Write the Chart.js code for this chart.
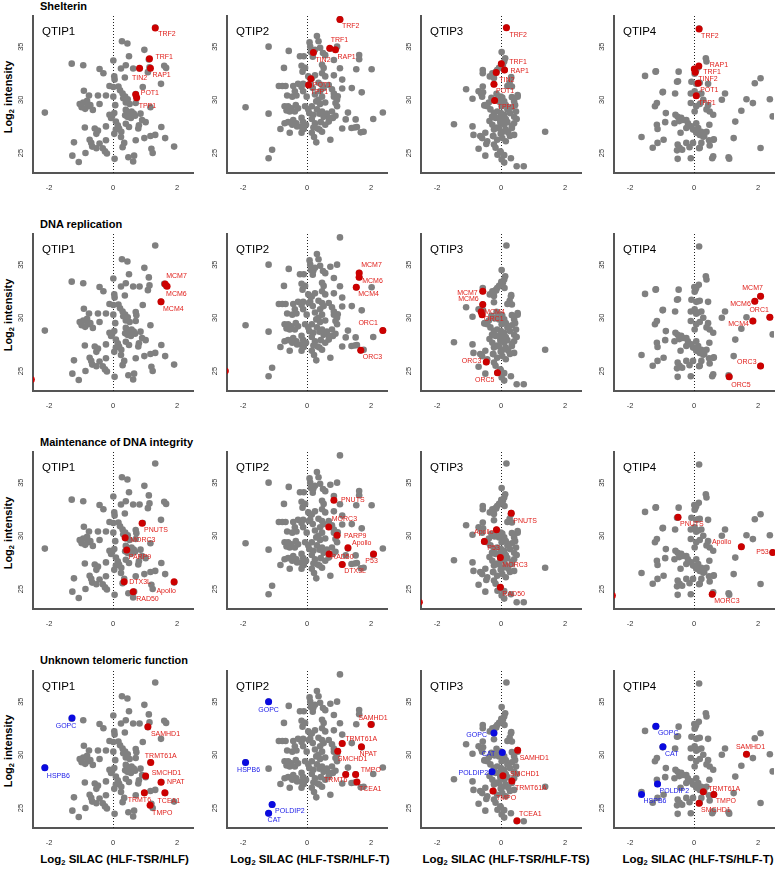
<!DOCTYPE html>
<html>
<head>
<meta charset="utf-8">
<script src="https://cdn.jsdelivr.net/npm/chart.js@4.4.0/dist/chart.umd.min.js"></script>
<style>
  body { margin: 0; width: 775px; height: 869px; position: relative; overflow: hidden; background: #fff;
         font-family: "Liberation Sans", Arial, sans-serif; color: #000; }
  canvas { position: absolute; }
  .rowt { position: absolute; left: 40px; font-weight: bold; font-size: 11px; line-height: 11px; white-space: nowrap; }
  .xt { position: absolute; top: 853px; font-weight: bold; font-size: 11.5px; line-height: 13px;
        transform: translateX(-50%); white-space: nowrap; }
  .yt { position: absolute; font-weight: bold; font-size: 11px; line-height: 13px; white-space: nowrap;
        transform: translate(-50%, -50%) rotate(-90deg); }
  sub { font-size: 7.5px; vertical-align: -2px; line-height: 0; }
</style>
</head>
<body>
<script>
const panels = ['QTIP1', 'QTIP2', 'QTIP3', 'QTIP4'];
const rowTitles = ['Shelterin', 'DNA replication', 'Maintenance of DNA integrity', 'Unknown telomeric function'];
const xTitles = ['HLF-TSR/HLF', 'HLF-TSR/HLF-T', 'HLF-TSR/HLF-TS', 'HLF-TS/HLF-T'];
const xTicks = [-2, 0, 2];
const yTicks = [25, 30, 35];

// all quantified proteins, per comparison: [log2 SILAC ratio, log2 intensity]
const grayQTIP1 = [[1.32,36.8],[0.28,35.5],[0.45,35.3],[0.98,34.7],[0.5,34.1],[1.12,33.8],[0.01,33.7],[-1.29,33.4],[-0.93,33.25],
  [1.14,33.05],[0.4,33.25],[0.25,32.95],[0.63,32.95],[0.83,32.95],[-0.42,32.9],[-0.3,32.5],[0.04,32.2],[0.05,31.9],[0.37,32.1],
  [0.93,31.2],[-0.91,30.85],[-0.11,31.3],[0.01,31.2],[0.17,31.25],[0.22,30.9],[0.3,30.6],[0.38,30.3],[0.32,30.15],[0.46,30.05],
  [0.4,29.75],[0.52,29.6],[0.71,30.55],[0.73,30.25],[-0.75,30.4],[-0.47,30.4],[-0.22,30.4],[-1.04,29.6],[-0.93,29.75],[-0.83,29.7],
  [-0.78,29.4],[-0.71,29.5],[-0.81,29.9],[-0.98,29.3],[-0.87,29.15],[-0.42,29.6],[0.01,30.3],[0.07,29.5],[1.17,29.3],[0.71,29.7],
  [-0.63,29.05],[-0.11,28.6],[-0.03,28.45],[0.04,28.75],[-0.06,28.3],[0.4,29.05],[0.46,28.85],[0.52,28.7],[0.58,28.9],[0.65,28.7],
  [0.69,28.5],[0.56,28.3],[0.45,28.4],[0.38,28.55],[0.91,28.1],[1.02,27.9],[0.86,28.7],[-0.88,27.4],[-0.57,27.3],[-0.47,27.1],
  [-0.52,26.8],[-0.22,27.5],[0.09,27.95],[0.15,27.6],[0.19,27.3],[0.09,27.2],[0.26,27.0],[0.04,26.8],[0.4,27.75],[0.5,27.45],
  [0.81,27.6],[0.79,27.3],[1.51,27.45],[1.17,26.6],[1.32,26.7],[0.98,26.4],[1.63,26.4],[-1.22,26.0],[-0.73,26.25],[-0.68,25.95],
  [-0.65,25.6],[-0.52,25.45],[-0.42,25.9],[-0.22,26.2],[-0.32,25.45],[-0.25,25.15],[-0.19,24.95],[0.25,26.5],[0.35,25.95],
  [0.3,25.55],[0.71,26.2],[1.91,25.6],[1.2,25.4],[1.24,25.0],[-1.27,24.75],[-0.86,25.0],[-1.07,24.15],[0.05,24.45],[0.48,24.6],
  [0.66,24.75],[0.63,24.2],[-2.13,28.8],[1.6,33.2],[1.66,33.0],[1.5,31.5],[1.09,32.6]];

const grayQTIP2 = [[1.03,37.56],[0.31,36.0],[-1.2,35.0],[0.08,35.4],[0.1,35.0],[0.12,34.5],[0.36,35.5],[0.41,34.9],[0.73,34.8],
  [0.94,35.0],[0.5,34.4],[0.25,34.7],[-0.57,34.6],[-0.22,34.1],[-0.1,34.1],[0.18,34.06],[0.57,34.2],[0.84,33.75],[1.63,34.22],
  [1.63,33.81],[2.02,32.87],[1.54,32.88],[1.03,32.97],[0.47,33.3],[0.52,33.0],[-0.72,33.0],[-0.17,33.2],[-0.06,33.0],[-0.14,32.65],
  [0.04,32.2],[0.15,32.0],[0.25,32.3],[0.47,32.5],[0.57,32.2],[1.1,31.9],[0.84,32.3],[-0.43,31.3],[-0.28,31.5],[-0.12,31.5],
  [-0.17,31.2],[0.1,31.5],[0.18,31.1],[0.36,31.6],[0.47,31.4],[0.52,31.1],[0.41,30.8],[0.68,31.4],[0.78,31.0],[0.84,30.6],
  [1.4,31.1],[-0.88,31.3],[-0.77,31.3],[-0.67,31.3],[-0.62,30.4],[-0.38,30.8],[-0.46,30.3],[-0.33,30.4],[-0.12,30.8],[-0.01,30.3],
  [0.25,30.5],[0.36,30.0],[0.29,29.85],[0.47,30.3],[0.57,29.75],[0.41,29.6],[0.84,30.3],[0.94,30.0],[0.89,29.7],[1.71,30.7],
  [-1.92,29.3],[-1.2,28.7],[-0.7,29.4],[-0.59,29.4],[-0.64,29.0],[-0.54,28.9],[-0.49,29.2],[-0.35,29.5],[-0.28,29.2],[-0.38,28.9],
  [-0.06,29.4],[0.04,29.1],[0.15,29.4],[0.07,28.75],[0.2,28.6],[0.31,29.1],[0.39,28.7],[0.47,28.9],[0.52,28.4],[0.62,28.7],
  [0.78,28.9],[0.89,28.5],[0.94,29.4],[1.28,28.8],[1.49,27.4],[2.07,28.2],[-0.83,27.25],[-0.7,27.8],[-0.59,27.9],[-0.43,28.1],
  [-0.33,27.8],[-0.46,27.65],[-0.31,27.5],[-0.17,28.3],[-0.12,27.9],[-0.17,27.45],[-0.03,27.65],[-0.1,27.25],[0.15,28.2],
  [0.25,27.8],[0.2,27.4],[0.33,27.3],[0.43,27.9],[0.39,27.2],[0.57,27.65],[0.68,27.95],[-0.54,26.9],[-0.17,26.9],[0.15,26.9],
  [0.22,26.5],[0.29,26.0],[0.47,27.0],[0.73,26.25],[1.39,27.35],[1.77,27.0],[-1.09,25.3],[-1.2,24.5],[0.81,28.3],[1.1,31.06],
  [0.96,30.34],[1.21,28.16],[1.52,28.16],[1.56,27.44],[0.69,28.28],[1.1,27.31],[2.37,28.81],[1.68,26.94],[0.2,34.44],
  [0.12,31.97],[0.05,31.4]];

const grayQTIP3 = [[0.17,36.8],[0.02,34.5],[0.13,33.9],[0.1,33.6],[0.06,33.3],[-0.01,33.1],[-0.06,33.0],[0.01,33.38],[0.11,32.8],
  [-0.17,32.6],[-0.27,32.5],[-0.12,32.8],[-0.57,32.8],[-0.57,32.5],[-0.35,32.2],[0.31,32.0],[0.27,31.6],[0.2,31.3],[0.34,31.25],
  [-1.09,31.0],[-0.7,30.8],[-0.56,30.7],[-0.57,31.25],[-0.62,30.56],[-0.22,31.47],[-0.89,30.1],[-0.51,29.5],[-0.38,29.75],
  [-0.43,29.4],[-0.3,30.2],[-0.17,30.0],[-0.01,30.3],[-0.06,29.85],[0.1,29.85],[0.15,29.5],[0.02,29.4],[0.2,29.1],[0.34,30.25],
  [0.41,29.85],[0.52,30.3],[0.44,29.5],[0.34,29.3],[-0.33,29.1],[-0.22,28.75],[-0.12,28.9],[-0.27,28.4],[-0.17,28.3],[0.0,28.75],
  [0.1,28.6],[-0.04,28.3],[0.04,28.1],[0.15,28.2],[-0.01,27.8],[0.1,27.65],[0.2,27.9],[0.28,28.75],[0.41,28.4],[0.47,28.9],
  [0.49,28.2],[0.41,27.8],[0.34,27.35],[-1.47,27.7],[-0.89,27.5],[-0.36,28.0],[-0.27,27.65],[-0.12,27.4],[-0.22,27.2],
  [-0.06,27.3],[0.06,27.0],[-0.01,26.8],[0.15,27.2],[0.23,26.9],[1.38,27.0],[-0.86,26.7],[-0.65,26.6],[-0.49,26.9],[-0.59,26.4],
  [-0.24,26.6],[-0.12,26.25],[0.04,26.4],[0.15,26.1],[0.28,26.6],[0.41,26.7],[-0.7,25.4],[-0.43,26.1],[-0.22,25.8],[-0.17,25.5],
  [-0.49,24.75],[-0.01,25.06],[0.1,24.8],[0.02,24.4],[0.31,24.5],[0.1,24.1],[0.49,23.75],[0.71,23.75],[-0.46,25.84],
  [-0.11,24.84],[0.32,32.13],[-0.14,30.56],[-0.52,29.47],[-0.02,27.97],[-0.02,25.16],[-0.22,32.06],[0.04,30.22],[-0.28,28.41],
  [0.52,30.44],[0.06,28.03],[0.34,27.53],[-0.25,26.59],[-0.2,29.94],[-0.15,32.56],[-0.59,30.3]];

const grayQTIP4 = [[0.16,36.7],[0.37,33.9],[0.39,33.6],[0.15,33.1],[0.07,32.8],[0.02,32.45],[-1.53,32.25],[-1.2,32.65],[-0.48,32.65],
  [-0.53,31.7],[-0.08,31.7],[0.07,31.5],[0.18,31.6],[0.44,31.5],[-0.1,30.6],[0.02,30.8],[0.13,30.5],[0.23,30.6],[-0.98,30.7],
  [-0.59,30.6],[0.97,30.6],[0.87,30.0],[-1.16,29.7],[-1.22,29.4],[-0.1,29.7],[0.07,29.4],[0.18,29.6],[0.29,30.0],[0.02,28.9],
  [0.39,29.1],[0.49,28.9],[0.6,28.6],[0.44,29.5],[-0.88,28.75],[-0.58,28.6],[-0.51,28.4],[-0.4,28.3],[-0.35,28.1],[-0.24,28.1],
  [-0.46,28.0],[-0.61,27.8],[-0.19,27.8],[-0.08,27.5],[-0.24,27.35],[-0.03,27.2],[0.07,27.8],[0.13,27.35],[0.23,27.0],[0.18,26.7],
  [0.07,26.9],[0.32,26.6],[0.39,27.0],[-0.9,27.9],[-1.16,27.65],[0.48,27.65],[1.29,27.95],[-1.64,26.5],[-1.14,25.95],[-1.29,25.5],
  [-0.95,26.25],[-0.42,26.9],[-0.51,25.8],[-0.45,25.5],[-0.53,25.25],[-0.37,25.3],[-0.24,25.95],[-0.14,25.55],[-0.03,25.95],
  [0.23,25.95],[0.18,25.5],[0.47,26.2],[0.49,25.7],[-0.51,24.45],[-0.1,24.5],[0.6,26.25],[1.24,26.4],[0.6,24.7],[1.08,24.6],
  [2.08,25.47],[2.37,30.06],[2.08,32.03],[1.9,31.56],[1.84,29.69],[1.1,24.47],[0.01,32.9],[0.04,32.6],[0.13,31.56],[0.07,30.38],
  [-0.5,31.75],[1.48,28.97],[2.46,28.44],[0.57,24.5],[-1.19,32.69],[-0.97,30.75],[-1.14,27.25],[1.64,30.06],[0.29,26.53],
  [0.62,26.28],[0.16,25.44]];

// highlighted proteins per row, one list per comparison: [name, ratio, intensity]
const shelterinRed = [
  [['TRF2',1.32,36.75],['TRF1',1.14,33.85],['TIN2',0.83,32.97],['RAP1',1.17,32.97],['POT1',0.71,30.5],['TPP1',0.74,30.2]],
  [['TRF2',1.03,37.56],['TRF1',0.71,34.84],['RAP1',0.89,34.7],['TIN2',0.2,34.44],['POT1',0.12,31.97],['TPP1',0.05,31.4]],
  [['TRF2',0.17,36.78],['TRF1',0.01,33.38],['RAP1',0.11,32.8],['TIN2',-0.15,32.56],['POT1',-0.22,31.47],['TPP1',-0.2,29.94]],
  [['TRF2',0.16,36.66],['RAP1',0.15,33.19],['TRF1',0.01,32.9],['TINF2',0.04,32.6],['POT1',0.13,31.56],['TPP1',0.07,30.38]]
];
const replicationRed = [
  [['MCM7',1.63,33.19],['MCM6',1.69,32.97],['MCM4',1.5,31.5],['',-2.55,24.2]],
  [['MCM7',1.63,34.22],['MCM6',1.63,33.81],['MCM4',1.54,32.88],['ORC1',2.37,28.81],['ORC3',1.68,26.94],['',-2.55,25.0]],
  [['MCM7',-0.57,32.5],['MCM6',-0.57,31.25],['MCM4',-0.62,30.56],['ORC1',-0.59,30.3],['ORC3',-0.46,25.84],['ORC5',-0.11,24.84]],
  [['MCM7',2.08,32.03],['MCM6',1.9,31.56],['ORC1',2.37,30.06],['MCM4',1.84,29.69],['ORC3',2.08,25.47],['ORC5',1.1,24.47]]
];
const integrityRed = [
  [['PNUTS',0.91,31.19],['MORC3',0.38,29.81],['PARP9',0.43,28.66],['DTX3L',0.35,25.69],['Apollo',1.91,25.69],['RAD50',0.63,24.75]],
  [['PNUTS',0.84,33.34],['MORC3',0.68,30.84],['PARP9',0.94,30.06],['Apollo',1.28,28.88],['RAD50',0.69,28.28],['P53',2.08,28.28],['DTX3L',1.1,27.31]],
  [['PNUTS',0.32,32.13],['Apollo',-0.14,30.56],['P53',-0.52,29.47],['MORC3',-0.02,27.97],['RAD50',-0.02,25.16],['',-2.55,23.75]],
  [['PNUTS',-0.5,31.75],['Apollo',1.48,28.97],['P53',2.46,28.44],['MORC3',0.57,24.5],['',-2.55,24.4]]
];
const unknownRed = [
  [['SAMHD1',1.09,32.63],['TRMT61A',1.18,29.28],['SMCHD1',1.02,28.0],['NPAT',1.5,27.41],['TRMT6',0.98,26.44],['TCEA1',1.62,26.44],['TMPO',1.16,25.25]],
  [['SAMHD1',2.0,32.84],['TRMT61A',1.1,31.06],['NPAT',1.7,30.75],['SMCHD1',0.96,30.34],['TRMT6',1.21,28.16],['TMPO',1.52,28.16],['TCEA1',1.56,27.44]],
  [['SAMHD1',0.52,30.44],['SMCHD1',0.06,28.03],['TRMT61A',0.34,27.53],['TMPO',-0.25,26.59],['TCEA1',0.5,23.81]],
  [['SAMHD1',1.64,30.06],['TRMT61A',0.29,26.53],['TMPO',0.62,26.28],['SMCHD1',0.16,25.44]]
];
const unknownBlue = [
  [['GOPC',-1.28,33.47],['HSPB6',-2.13,28.78]],
  [['GOPC',-1.2,35.0],['HSPB6',-1.92,29.28],['POLDIP2',-1.09,25.34],['CAT',-1.2,24.5]],
  [['GOPC',-0.22,32.06],['CAT',0.04,30.22],['POLDIP2',-0.28,28.41]],
  [['GOPC',-1.19,32.69],['CAT',-0.97,30.75],['POLDIP2',-1.14,27.25],['HSPB6',-1.64,26.28]]
];

// label placement in px relative to the dot: [dx, dy, align]  (align: l = left edge, c = centred, r = right edge)
const labelPlace = {
  '0-0-TRF2':[3,6],'0-0-TRF1':[6,-2],'0-0-RAP1':[2,7],'0-0-TIN2':[0,10,'c'],'0-0-POT1':[5,-1],'0-0-TPP1':[2,8],
  '0-1-TRF2':[2,7],'0-1-TRF1':[1,-8],'0-1-RAP1':[2,7],'0-1-TIN2':[2,7],'0-1-POT1':[2,6],'0-1-TPP1':[2,7],
  '0-2-TRF2':[3,7],'0-2-TRF1':[8,-2],'0-2-RAP1':[6,1],'0-2-TIN2':[3,7],'0-2-POT1':[2,7],'0-2-TPP1':[3,7],
  '0-3-TRF2':[2,7],'0-3-RAP1':[11,-1],'0-3-TRF1':[9,3],'0-3-TINF2':[3,7],'0-3-POT1':[2,7],'0-3-TPP1':[2,7],
  '1-0-MCM7':[1,-8],'1-0-MCM6':[-1,8],'1-0-MCM4':[2,7],
  '1-1-MCM7':[2,-8],'1-1-MCM6':[3,4],'1-1-MCM4':[2,7],'1-1-ORC1':[-5,-7,'r'],'1-1-ORC3':[2,7],
  '1-2-MCM7':[-5,2,'r'],'1-2-MCM6':[-4,-5,'r'],'1-2-MCM4':[3,0],'1-2-ORC1':[2,4],'1-2-ORC3':[-5,-1,'r'],'1-2-ORC5':[-3,7,'r'],
  '1-3-MCM7':[-8,-8,'c'],'1-3-MCM6':[-4,3,'r'],'1-3-ORC1':[-1,-7,'r'],'1-3-MCM4':[-4,3,'r'],'1-3-ORC3':[-4,-4,'r'],'1-3-ORC5':[2,8],
  '2-0-PNUTS':[2,7],'2-0-MORC3':[5,2],'2-0-PARP9':[2,7],'2-0-DTX3L':[5,0],'2-0-Apollo':[-8,9,'c'],'2-0-RAD50':[3,7],
  '2-1-PNUTS':[7,0],'2-1-MORC3':[3,-8],'2-1-PARP9':[7,1],'2-1-Apollo':[4,-5],'2-1-RAD50':[2,3],'2-1-P53':[-2,7,'c'],'2-1-DTX3L':[2,7],
  '2-2-PNUTS':[2,8],'2-2-Apollo':[-3,2,'r'],'2-2-P53':[3,7],'2-2-MORC3':[2,8],'2-2-RAD50':[2,7],
  '2-3-PNUTS':[2,7],'2-3-Apollo':[-10,-5,'r'],'2-3-P53':[-4,0,'r'],'2-3-MORC3':[2,7],
  '3-0-GOPC':[-6,8,'c'],'3-0-HSPB6':[2,8],'3-0-SAMHD1':[3,7],'3-0-TRMT61A':[10,-6,'c'],'3-0-SMCHD1':[6,-3],'3-0-NPAT':[6,0],
  '3-0-TRMT6':[-5,7,'c'],'3-0-TCEA1':[4,8,'c'],'3-0-TMPO':[2,8],
  '3-1-GOPC':[0,8,'c'],'3-1-HSPB6':[3,8,'c'],'3-1-POLDIP2':[3,7],'3-1-CAT':[-1,7],'3-1-SAMHD1':[2,-7,'c'],'3-1-TRMT61A':[3,-4],
  '3-1-NPAT':[-2,7],'3-1-SMCHD1':[0,8],'3-1-TRMT6':[-10,6,'c'],'3-1-TMPO':[5,-4],'3-1-TCEA1':[2,7],
  '3-2-GOPC':[-7,2,'r'],'3-2-CAT':[-7,2,'r'],'3-2-POLDIP2':[-4,1,'r'],'3-2-SAMHD1':[2,8],'3-2-SMCHD1':[7,-2],'3-2-TRMT61A':[3,7],
  '3-2-TMPO':[3,7],'3-2-TCEA1':[2,-7],
  '3-3-GOPC':[2,7],'3-3-CAT':[2,7],'3-3-POLDIP2':[2,7],'3-3-HSPB6':[2,7],'3-3-SAMHD1':[4,-7,'c'],'3-3-TRMT61A':[5,-3],
  '3-3-TMPO':[2,7],'3-3-SMCHD1':[2,7]
};

const grays = [grayQTIP1, grayQTIP2, grayQTIP3, grayQTIP4];
const rowsRed = [shelterinRed, replicationRed, integrityRed, unknownRed];
const rowsBlue = [null, null, null, unknownBlue];

const GRAY = '#808080', RED = '#cc0000', BLUE = '#0a0ae0';
const RED_TXT = '#e0201c', BLUE_TXT = '#2020e8';
const FONT = '"Liberation Sans", Arial, sans-serif';

const deco = {
  id: 'deco',
  beforeDatasetsDraw(chart) {
    const { ctx, chartArea: a, scales: { x } } = chart;
    const x0 = Math.round(x.getPixelForValue(0)) + 0.5;
    ctx.save();
    ctx.strokeStyle = '#222';
    ctx.lineWidth = 1;
    ctx.setLineDash([1, 2]);
    ctx.beginPath();
    ctx.moveTo(x0, a.top);
    ctx.lineTo(x0, a.bottom);
    ctx.stroke();
    ctx.restore();
  },
  afterDatasetsDraw(chart, args, opts) {
    const { ctx, chartArea: a, scales: { x, y } } = chart;
    ctx.save();
    // panel name
    ctx.fillStyle = '#000';
    ctx.font = '11.5px ' + FONT;
    ctx.textAlign = 'left';
    ctx.textBaseline = 'middle';
    ctx.fillText(opts.title, a.left + 9, a.top + 16);
    // rotated y tick labels
    ctx.fillStyle = '#333';
    ctx.font = '7.5px ' + FONT;
    ctx.textAlign = 'center';
    yTicks.forEach(v => {
      ctx.save();
      ctx.translate(a.left - 12, y.getPixelForValue(v));
      ctx.rotate(-Math.PI / 2);
      ctx.fillText(String(v), 0, 0);
      ctx.restore();
    });
    // protein labels
    ctx.font = '7px ' + FONT;
    opts.labels.forEach(([name, vx, vy, color]) => {
      const p = labelPlace[opts.key + '-' + name];
      if (!name || !p) return;
      const al = p[2] === 'c' ? 'center' : p[2] === 'r' ? 'right' : 'left';
      ctx.textAlign = al;
      ctx.fillStyle = color;
      ctx.fillText(name, x.getPixelForValue(vx) + p[0], y.getPixelForValue(vy) + p[1]);
    });
    ctx.restore();
  }
};

function pts(list) { return list.map(d => ({ x: d[d.length - 2], y: d[d.length - 1] })); }

const W = 188, H = 183;
for (let r = 0; r < 4; r++) {
  const t = document.createElement('div');
  t.className = 'rowt';
  t.style.top = (0.5 + 218.2 * r) + 'px';
  t.textContent = rowTitles[r];
  document.body.appendChild(t);

  const yt = document.createElement('div');
  yt.className = 'yt';
  yt.style.left = '7.5px';
  yt.style.top = (96.7 + 218.2 * r) + 'px';
  yt.innerHTML = 'Log<sub>2</sub> intensity';
  document.body.appendChild(yt);

  for (let c = 0; c < 4; c++) {
    const cv = document.createElement('canvas');
    cv.width = W; cv.height = H;
    cv.style.width = W + 'px'; cv.style.height = H + 'px';
    cv.style.left = Math.round(33 + 193.8 * c - 22) + 'px';
    cv.style.top = Math.round(16 + 218.2 * r - 4) + 'px';
    document.body.appendChild(cv);

    const red = rowsRed[r][c];
    const blue = rowsBlue[r] ? rowsBlue[r][c] : [];
    const labels = red.map(d => [d[0], d[1], d[2], RED_TXT]).concat(blue.map(d => [d[0], d[1], d[2], BLUE_TXT]));

    new Chart(cv, {
      type: 'scatter',
      data: {
        datasets: [
          { data: pts(grays[c]), backgroundColor: GRAY, borderWidth: 0, pointRadius: 3.3, order: 3 },
          { data: pts(red), backgroundColor: RED, borderWidth: 0, pointRadius: 3.5, order: 1,
            clip: { left: 0, top: 6, right: 6, bottom: 6 } },
          { data: pts(blue), backgroundColor: BLUE, borderWidth: 0, pointRadius: 3.5, order: 1 }
        ]
      },
      options: {
        responsive: false,
        animation: false,
        devicePixelRatio: 1,
        events: [],
        layout: { padding: { top: 4, right: 6, left: 0, bottom: 0 } },
        plugins: {
          legend: { display: false },
          tooltip: { enabled: false },
          deco: { title: panels[c], labels: labels, key: r + '-' + c }
        },
        scales: {
          x: {
            type: 'linear', min: -2.5, max: 2.5,
            grid: { display: false, drawTicks: false },
            border: { color: '#555', width: 2 },
            ticks: { color: '#333', font: { size: 7.5, family: FONT }, padding: 10 },
            afterBuildTicks: s => { s.ticks = xTicks.map(v => ({ value: v })); },
            afterFit: s => { s.height = 22; }
          },
          y: {
            type: 'linear', min: 23.12, max: 37.88,
            grid: { display: false, drawTicks: false },
            border: { color: '#555', width: 2 },
            ticks: { display: false },
            afterBuildTicks: s => { s.ticks = yTicks.map(v => ({ value: v })); },
            afterFit: s => { s.width = 22; }
          }
        }
      },
      plugins: [deco]
    });
  }
}

const xCenters = [114.5, 310, 506, 698];
xTitles.forEach((tx, c) => {
  const d = document.createElement('div');
  d.className = 'xt';
  d.style.left = xCenters[c] + 'px';
  d.innerHTML = 'Log<sub>2</sub> SILAC (' + tx + ')';
  document.body.appendChild(d);
});
</script>
</body>
</html>
